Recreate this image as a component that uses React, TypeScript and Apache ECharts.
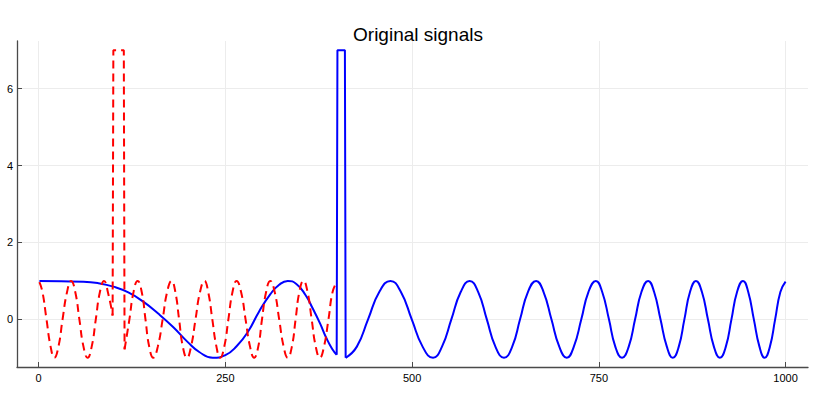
import React, { useEffect, useRef } from 'react';
import * as echarts from 'echarts';

const titleText = 'Original signals';
const xTicks = [0, 250, 500, 750, 1000];
const yTicks = [0, 2, 4, 6];

// Blue signal (solid): slow chirp, spike, fast chirp
const blueChirpA: [number, number][] = [
  [1, 1.0], [30, 0.99], [60, 0.98], [80, 0.94], [100, 0.85], [120, 0.7],
  [140, 0.46], [160, 0.15], [180, -0.2], [200, -0.6], [215, -0.85], [233, -1.0],
  [250, -0.93], [265, -0.7], [280, -0.33], [295, 0.2], [310, 0.65], [322, 0.9],
  [333.5, 1.0], [345, 0.92], [357, 0.64], [367, 0.28], [377, -0.12], [385, -0.48],
  [393, -0.77], [399, -0.92],
];
const blueSpike: [number, number][] = [[399, -0.92], [400, 7], [410, 7], [411, -1]];
const blueChirpB: [number, number][] = [
  [411, -1], [426, -0.71], [441, 0], [456, 0.71], [471, 1], [485, 0.71], [499.5, 0],
  [514, -0.71], [528, -1], [540, -0.71], [552.5, 0], [565, 0.71], [577, 1],
  [588.5, 0.71], [600, 0], [611.5, -0.71], [623, -1], [634, -0.71], [644.5, 0],
  [655, 0.71], [666, 1], [676, 0.71], [686.5, 0], [697, -0.71], [707, -1],
  [716.5, -0.71], [726.5, 0], [736, 0.71], [746, 1], [754.5, 0.71], [763.5, 0],
  [772, -0.71], [781, -1], [790, -0.71], [798.5, 0], [807, 0.71], [816, 1],
  [824, 0.71], [832.5, 0], [841, -0.71], [849, -1], [857, -0.71], [864.5, 0],
  [872, 0.71], [880, 1], [888, 0.71], [896, 0], [904, -0.71], [912, -1],
  [920, -0.71], [927.5, 0], [935, 0.71], [943, 1], [950, 0.71], [957.5, 0],
  [965, -0.71], [972, -1], [979, -0.71], [986, 0], [993, 0.71], [1000, 0.98],
];

// Red signal (dashed): sine, spike, sine
const redSineA: [number, number][] = [
  [1, 0.97], [5, 0.72], [10.5, 0], [16, -0.71], [21, -1], [26.5, -0.71], [32, 0],
  [38, 0.71], [43.5, 1], [49, 0.71], [54.5, 0], [60, -0.71], [65.5, -1],
  [71, -0.71], [76.5, 0], [82, 0.71], [87.5, 1], [93, 0.68], [99, 0.1],
];
const redSpike: [number, number][] = [[99, 0.1], [100, 7], [114, 7], [115, -0.78]];
const redSineB: [number, number][] = [
  [115, -0.78], [121.5, 0], [127, 0.71], [132.5, 1], [138, 0.71], [143, 0],
  [148, -0.71], [153.5, -1], [159.5, -0.71], [166, 0], [172, 0.71], [178, 1],
  [183, 0.71], [188, 0], [193, -0.71], [198.5, -1], [204, -0.71], [210, 0],
  [216, 0.71], [222, 1], [227, 0.71], [232.5, 0], [238, -0.71], [243, -1],
  [248.5, -0.71], [254, 0], [259.5, 0.71], [265, 1], [271, 0.71], [277, 0],
  [283, -0.71], [288.5, -1], [294, -0.71], [299, 0], [304.5, 0.71], [310, 1],
  [316, 0.71], [322, 0], [328, -0.71], [333.5, -1], [339, -0.71], [344, 0],
  [349, 0.71], [354.5, 1], [360, 0.71], [365.5, 0], [371, -0.71], [376.5, -1],
  [382, -0.71], [388, 0], [393.5, 0.71], [399, 0.97],
];

const FONT = '"Liberation Sans", Arial, Helvetica, sans-serif';
const BLUE = '#0000ff';
const RED = '#ff0000';

export default function App() {
  const ref = useRef<HTMLDivElement>(null);
  useEffect(() => {
    document.body.style.margin = '0';
    if (!ref.current) return;
    const chart = echarts.init(ref.current, null, { renderer: 'svg' });
    const line = (data: [number, number][], color: string, dashed: boolean, smooth: boolean) => ({
      type: 'line',
      data,
      smooth: smooth ? 0.5 : false,
      symbol: 'none',
      silent: true,
      lineStyle: { color, width: 2, type: dashed ? [8, 5] : 'solid' },
    });
    chart.setOption({
      animation: false,
      backgroundColor: '#ffffff',
      title: {
        text: titleText,
        left: 413,
        textAlign: 'center',
        top: 20,
        textStyle: { fontFamily: FONT, fontSize: 19, fontWeight: 'normal', color: '#000' },
      },
      grid: { left: 17, right: 5, top: 41, bottom: 33, containLabel: false },
      xAxis: {
        type: 'value',
        min: -29,
        max: 1030,
        axisLine: { onZero: false, lineStyle: { color: '#4a4a4a', width: 1.3 } },
        axisTick: { inside: true, length: 5, customValues: xTicks, lineStyle: { color: '#4a4a4a' } },
        axisLabel: {
          customValues: xTicks,
          formatter: (v: number) => String(v),
          margin: 5,
          fontFamily: FONT,
          fontSize: 11,
          color: '#000',
        },
        splitLine: { show: true, lineStyle: { color: '#ececec', width: 1 } },
      },
      yAxis: {
        type: 'value',
        min: -1.24,
        max: 7.24,
        axisLine: { show: true, onZero: false, lineStyle: { color: '#4a4a4a', width: 1.3 } },
        axisTick: { show: true, inside: true, length: 5, customValues: yTicks, lineStyle: { color: '#4a4a4a' } },
        axisLabel: {
          customValues: yTicks,
          formatter: (v: number) => String(v),
          margin: 4,
          fontFamily: FONT,
          fontSize: 11,
          color: '#000',
        },
        splitLine: { show: true, lineStyle: { color: '#ececec', width: 1 } },
      },
      series: [
        line(blueChirpA, BLUE, false, true),
        line(blueSpike, BLUE, false, false),
        line(blueChirpB, BLUE, false, true),
        line(redSineA, RED, true, true),
        line(redSpike, RED, true, false),
        line(redSineB, RED, true, true),
      ],
    });
    return () => chart.dispose();
  }, []);
  return <div ref={ref} style={{ width: 813, height: 400 }} />;
}
